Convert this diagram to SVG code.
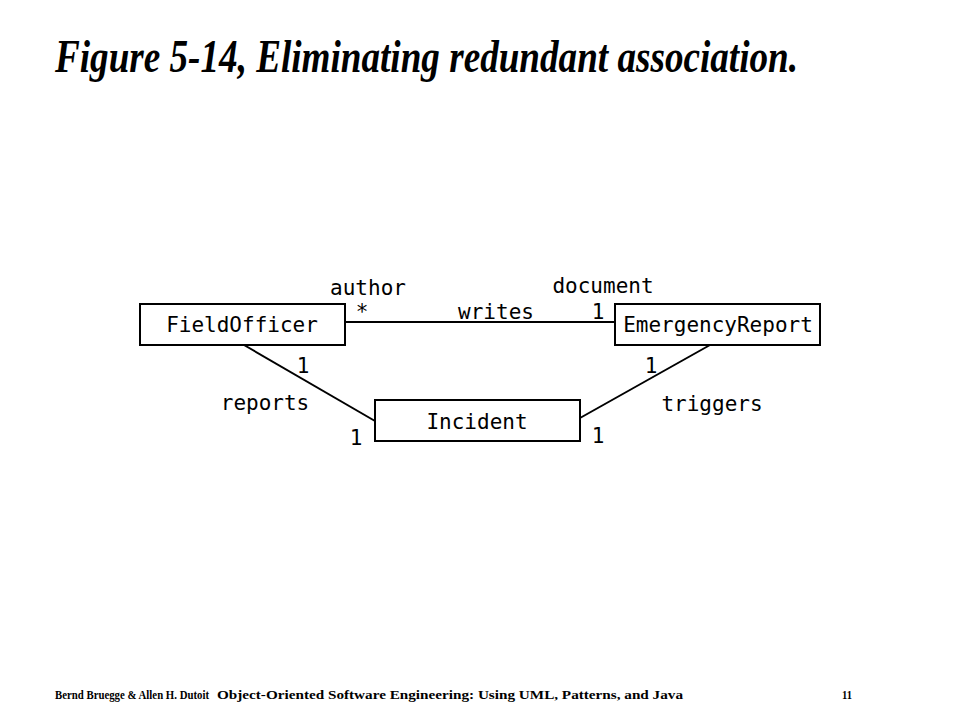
<svg xmlns="http://www.w3.org/2000/svg" width="960" height="720" viewBox="0 0 960 720">
<style>
.box{fill:#fff;stroke:#000;stroke-width:2}
.ln{stroke:#000;stroke-width:2;fill:none}
.t{font-family:"DejaVu Sans Mono","Liberation Mono",monospace;font-size:21px;fill:#000}
.m{text-anchor:middle}
.ft{font-family:"Liberation Serif","Times New Roman",serif;font-weight:bold;fill:#000}
</style>
<rect width="960" height="720" fill="#fff"/>
<text x="55" y="72" font-family="Liberation Serif, Times New Roman, serif" font-weight="bold" font-style="italic" font-size="46" textLength="743" lengthAdjust="spacingAndGlyphs">Figure 5-14, Eliminating redundant association.</text>
<g id="connectors">
<line class="ln" x1="345" y1="322" x2="615" y2="322"/>
<line class="ln" x1="244" y1="345" x2="375" y2="421"/>
<line class="ln" x1="710" y1="345" x2="580" y2="418"/>
<text class="t m" x="368" y="295">author</text>
<text class="t m" x="362" y="319">*</text>
<text class="t m" x="496" y="319">writes</text>
<text class="t m" x="603" y="293">document</text>
<text class="t m" x="598" y="319">1</text>
<text class="t m" x="303" y="373">1</text>
<text class="t m" x="265" y="410">reports</text>
<text class="t m" x="356" y="445">1</text>
<text class="t m" x="651" y="373">1</text>
<text class="t m" x="712" y="411">triggers</text>
<text class="t m" x="598" y="443">1</text>
</g>
<g id="FieldOfficer">
<rect class="box" x="140" y="304" width="205" height="41"/>
<text class="t m" x="242" y="332">FieldOfficer</text>
</g>
<g id="EmergencyReport">
<rect class="box" x="615" y="304" width="205" height="41"/>
<text class="t m" x="718" y="332">EmergencyReport</text>
</g>
<g id="Incident">
<rect class="box" x="375" y="400" width="205" height="41"/>
<text class="t m" x="477" y="429">Incident</text>
</g>
<text class="ft" x="55" y="699" font-size="11.5" textLength="154" lengthAdjust="spacingAndGlyphs">Bernd Bruegge &amp; Allen H. Dutoit</text>
<text class="ft" x="217" y="699" font-size="12" textLength="466" lengthAdjust="spacingAndGlyphs">Object-Oriented Software Engineering: Using UML, Patterns, and Java</text>
<text class="ft" x="842" y="699" font-size="12" textLength="10" lengthAdjust="spacingAndGlyphs">11</text>
</svg>
